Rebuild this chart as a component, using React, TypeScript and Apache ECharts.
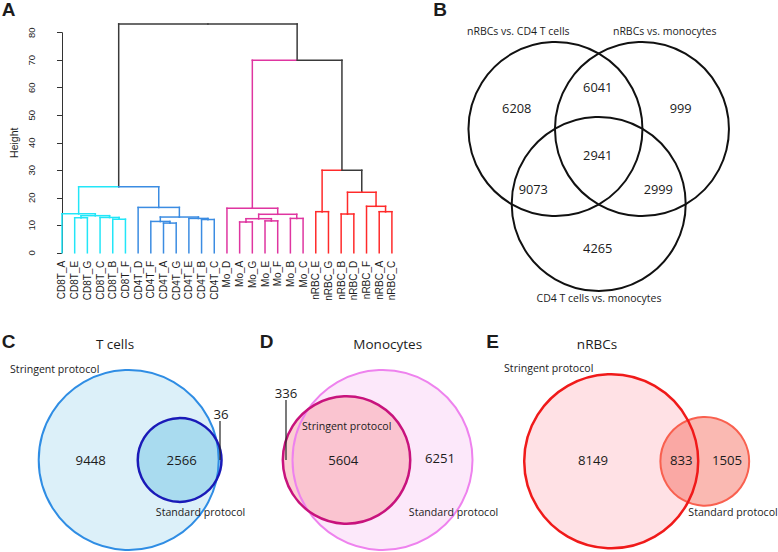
import React, { useEffect, useRef } from "react";
import * as echarts from "echarts";

// ---------------- Panel A data: hierarchical clustering ----------------
const leafLabels = [
  "CD8T_A", "CD8T_E", "CD8T_G", "CD8T_C", "CD8T_B", "CD8T_F",
  "CD4T_D", "CD4T_F", "CD4T_A", "CD4T_G", "CD4T_E", "CD4T_B", "CD4T_C",
  "Mo_D", "Mo_A", "Mo_G", "Mo_E", "Mo_F", "Mo_B", "Mo_C",
  "nRBC_E", "nRBC_G", "nRBC_B", "nRBC_D", "nRBC_F", "nRBC_A", "nRBC_C",
];
// merge k (1-based id "m<k>") joins mergeLeft[k-1] and mergeRight[k-1] at mergeHeights[k-1]
const mergeLeft = [
  "CD8T_B", "CD8T_E", "CD8T_C", "m2", "CD8T_A",
  "CD4T_A", "CD4T_F", "CD4T_B", "CD4T_E", "m7", "CD4T_D", "m5",
  "Mo_A", "Mo_E", "m13", "Mo_B", "m15", "Mo_D",
  "nRBC_E", "nRBC_B", "nRBC_A", "nRBC_F", "m20", "m19", "m18", "m12",
];
const mergeRight = [
  "CD8T_F", "CD8T_G", "m1", "m3", "m4",
  "CD4T_G", "m6", "CD4T_C", "m8", "m9", "m10", "m11",
  "Mo_G", "Mo_F", "m14", "Mo_C", "m16", "m17",
  "nRBC_G", "nRBC_D", "nRBC_C", "m21", "m22", "m23", "m24", "m25",
];
const mergeHeights = [
  12.2, 12.75, 12.85, 13.5, 14.2,
  10.8, 11.4, 12.1, 12.5, 13.0, 16.5, 24.0,
  11.2, 11.6, 12.4, 12.5, 14.0, 16.2,
  14.95, 14.1, 14.95, 16.9, 22.0, 30.0, 70.0, 83.2,
];
const heightMax = 80;
const heightStep = 10;

// ---------------- Panel B data ----------------
const vennBSetNames = ["nRBCs vs. CD4 T cells", "nRBCs vs. monocytes", "CD4 T cells vs. monocytes"];
const vennBRegions = ["A", "B", "C", "AB", "AC", "BC", "ABC"];
const vennBCounts = [6208, 999, 4265, 6041, 9073, 2999, 2941];

// ---------------- Panels C, D, E data ----------------
const eulerTitles = ["T cells", "Monocytes", "nRBCs"];
const eulerSetNames = ["Stringent protocol", "Standard protocol"];
// [stringent only, both, standard only]
const tCellCounts = [9448, 2566, 36];
const monocyteCounts = [336, 5604, 6251];
const nrbcCounts = [8149, 833, 1505];

// ---------------- styles / layout ----------------
const DENDRO_COLORS = ["#3a3a3a", "#22e6f8", "#3b8ce2", "#df35a0", "#ff2a2a"];
const CLUSTER_COLOR: Record<string, number> = { m5: 1, m11: 2, m18: 3, m19: 4, m20: 4, m22: 4 };
const SANS = "'Liberation Sans', Arial, sans-serif";
const VFONT = "'Open Sans', 'Noto Sans', sans-serif";
const TXT = "#1c1c1c";

function buildDendrogramSegments(): number[][] {
  const nodes: Record<string, { x: number; h: number; kids: string[] }> = {};
  leafLabels.forEach((l, i) => (nodes[l] = { x: i, h: 0, kids: [] }));
  mergeHeights.forEach((h, k) => {
    const a = mergeLeft[k];
    const b = mergeRight[k];
    nodes["m" + (k + 1)] = { x: (nodes[a].x + nodes[b].x) / 2, h, kids: [a, b] };
  });
  const segs: number[][] = [];
  const walk = (id: string, col: number) => {
    const n = nodes[id];
    n.kids.forEach((k) => {
      const c = nodes[k];
      const kc = CLUSTER_COLOR[k] ?? col;
      segs.push([c.x, c.h, c.x, n.h, kc]);
      segs.push([c.x, n.h, n.x, n.h, kc]);
      walk(k, kc);
    });
  };
  const root = "m" + mergeHeights.length;
  walk(root, CLUSTER_COLOR[root] ?? 0);
  return segs;
}

function lensArea(R: number, r: number, d: number) {
  if (d >= R + r) return 0;
  if (d <= Math.abs(R - r)) return Math.PI * Math.min(R, r) ** 2;
  const a = r * r * Math.acos((d * d + r * r - R * R) / (2 * d * r));
  const b = R * R * Math.acos((d * d + R * R - r * r) / (2 * d * R));
  const c = 0.5 * Math.sqrt((-d + r + R) * (d + r - R) * (d - r + R) * (d + r + R));
  return a + b - c;
}
function solveDistance(R: number, r: number, target: number) {
  let lo = Math.abs(R - r);
  let hi = R + r;
  for (let i = 0; i < 80; i++) {
    const mid = (lo + hi) / 2;
    if (lensArea(R, r, mid) > target) lo = mid;
    else hi = mid;
  }
  return (lo + hi) / 2;
}

type Desc =
  | { kind: "fill"; cx: number; cy: number; r: number; fill: string }
  | { kind: "stroke"; cx: number; cy: number; r: number; stroke: string; lw: number }
  | { kind: "text"; x: number; y: number; text: string; size: number }
  | { kind: "line"; x1: number; y1: number; x2: number; y2: number };

// Layout of the Euler panels (positions in page pixels)
const EULER_LAYOUT = [
  {
    counts: tCellCounts, cx: 128.7, cy: 460, R: 90, dir: 1, bigIsStringent: true,
    big: { fill: "#dcf0f9", stroke: "#2f8de4", lw: 2 },
    small: { fill: "#a9dbef", stroke: "#1a1ab8", lw: 2.5 },
    strokeOrder: ["big", "small"],
    labels: { bigOnly: [90.7, 460], both: [181.7, 460], smallOnly: [221, 413.5] },
    leader: [220, 421, 220, 460],
  },
  {
    counts: monocyteCounts, cx: 382.5, cy: 460, R: 90, dir: -1, bigIsStringent: false,
    big: { fill: "#fce8fa", stroke: "#ee82ee", lw: 2 },
    small: { fill: "rgba(248,160,165,0.5)", stroke: "#c8137d", lw: 2.5 },
    strokeOrder: ["big", "small"],
    labels: { bigOnly: [440, 458], both: [343.3, 460], smallOnly: [286, 393] },
    leader: [286, 400, 286, 460],
  },
  {
    counts: nrbcCounts, cx: 611.2, cy: 461.3, R: 87, dir: 1, bigIsStringent: true,
    big: { fill: "#ffe1e5", stroke: "#f01a1a", lw: 2.5 },
    small: { fill: "rgba(245,100,85,0.45)", stroke: "#f9604f", lw: 2 },
    strokeOrder: ["small", "big"],
    labels: { bigOnly: [593, 460], both: [681.3, 460], smallOnly: [727, 460] },
    leader: null as null | number[],
  },
];

const VENN_B = { cx: 598.7, cy: 154, side: 86.5, r: 87 };
const VENN_B_LABEL_OFFSETS: Record<string, number[]> = {
  A: [-82, -45.8], B: [82, -45.8], C: [-1, 94.2], AB: [-1, -66.8],
  AC: [-65.4, 35.2], BC: [59.6, 35.2], ABC: [-1, 0.9],
};

function buildVennDescs(): Desc[] {
  const out: Desc[] = [];
  // Panel B
  const { cx, cy, side, r } = VENN_B;
  const h = side / (2 * Math.sqrt(3));
  const centers = [
    [cx - side / 2, cy - h],
    [cx + side / 2, cy - h],
    [cx, cy + side / Math.sqrt(3)],
  ];
  centers.forEach(([x, y]) => out.push({ kind: "stroke", cx: x, cy: y, r, stroke: "#111", lw: 2 }));
  vennBRegions.forEach((k, i) => {
    const o = VENN_B_LABEL_OFFSETS[k];
    out.push({ kind: "text", x: cx + o[0], y: cy + o[1], text: String(vennBCounts[i]), size: 12.8 });
  });
  // Panels C, D, E
  EULER_LAYOUT.forEach((p) => {
    const [sOnly, both, dOnly] = p.counts;
    const totS = sOnly + both;
    const totD = dOnly + both;
    const totBig = p.bigIsStringent ? totS : totD;
    const totSmall = p.bigIsStringent ? totD : totS;
    const bigOnly = p.bigIsStringent ? sOnly : dOnly;
    const smallOnly = p.bigIsStringent ? dOnly : sOnly;
    const R = p.R;
    const rs = R * Math.sqrt(totSmall / totBig);
    const target = (Math.PI * R * R * both) / totBig;
    const d = solveDistance(R, rs, target);
    const sx = p.cx + p.dir * d;
    out.push({ kind: "fill", cx: p.cx, cy: p.cy, r: R, fill: p.big.fill });
    out.push({ kind: "fill", cx: sx, cy: p.cy, r: rs, fill: p.small.fill });
    p.strokeOrder.forEach((w) => {
      if (w === "big") out.push({ kind: "stroke", cx: p.cx, cy: p.cy, r: R, stroke: p.big.stroke, lw: p.big.lw });
      else out.push({ kind: "stroke", cx: sx, cy: p.cy, r: rs, stroke: p.small.stroke, lw: p.small.lw });
    });
    if (p.leader) {
      const [x1, y1, x2, y2] = p.leader;
      out.push({ kind: "line", x1, y1, x2, y2 });
    }
    out.push({ kind: "text", x: p.labels.bigOnly[0], y: p.labels.bigOnly[1], text: String(bigOnly), size: 13.2 });
    out.push({ kind: "text", x: p.labels.both[0], y: p.labels.both[1], text: String(both), size: 13.2 });
    out.push({ kind: "text", x: p.labels.smallOnly[0], y: p.labels.smallOnly[1], text: String(smallOnly), size: 13.2 });
  });
  return out;
}

function gText(text: string, x: number, y: number, size: number, font: string, weight: string = "normal") {
  return {
    type: "text",
    x,
    y,
    z: 100,
    style: {
      text,
      fill: TXT,
      fontSize: size,
      fontFamily: font,
      fontWeight: weight,
      textAlign: "center",
      textVerticalAlign: "middle",
      align: "center",
      verticalAlign: "middle",
    },
  };
}

export default function App() {
  const ref = useRef<HTMLDivElement>(null);
  useEffect(() => {
    if (!ref.current) return;
    const chart = echarts.init(ref.current, null, { renderer: "svg" });
    const segs = buildDendrogramSegments();
    const descs = buildVennDescs();

    const graphicEls: any[] = [
      gText("A", 8.5, 9.5, 19, SANS, "bold"),
      gText("B", 440, 9.5, 19, SANS, "bold"),
      gText("C", 8.5, 341.5, 19, SANS, "bold"),
      gText("D", 266.7, 341.5, 19, SANS, "bold"),
      gText("E", 492.5, 341.5, 19, SANS, "bold"),
      gText(vennBSetNames[0], 518.3, 31, 10.5, VFONT),
      gText(vennBSetNames[1], 664.7, 31, 10.5, VFONT),
      gText(vennBSetNames[2], 599, 297.5, 10.5, VFONT),
      gText(eulerTitles[0], 115, 343.5, 13.5, VFONT),
      gText(eulerTitles[1], 387.7, 343.5, 13.5, VFONT),
      gText(eulerTitles[2], 597, 343.5, 13.5, VFONT),
      gText(eulerSetNames[0], 54.7, 369.3, 10.6, VFONT),
      gText(eulerSetNames[1], 200.5, 511.7, 10.6, VFONT),
      gText(eulerSetNames[0], 346.7, 426, 10.6, VFONT),
      gText(eulerSetNames[1], 453.5, 511.7, 10.6, VFONT),
      gText(eulerSetNames[0], 548.7, 368.3, 10.6, VFONT),
      gText(eulerSetNames[1], 733, 511.7, 10.6, VFONT),
    ];

    const option: any = {
      animation: false,
      backgroundColor: "#ffffff",
      grid: [
        { left: 55.65, top: 32.7, width: 342.6, height: 220.1, outerBoundsMode: "none" },
        { left: 0, top: 0, width: 778, height: 552, outerBoundsMode: "none" },
      ],
      xAxis: [
        { type: "value", gridIndex: 0, min: -0.5, max: leafLabels.length - 0.5, show: false, position: "top" },
        {
          type: "category",
          gridIndex: 0,
          data: leafLabels,
          position: "bottom",
          boundaryGap: true,
          axisLine: { show: false },
          axisTick: { show: false },
          axisLabel: { rotate: 90, interval: 0, margin: 8, fontSize: 10, fontFamily: SANS, color: TXT },
        },
        { type: "value", gridIndex: 1, min: 0, max: 778, show: false },
      ],
      yAxis: [
        {
          type: "value",
          gridIndex: 0,
          min: 0,
          max: heightMax,
          interval: heightStep,
          offset: 13,
          name: "Height",
          nameLocation: "middle",
          nameRotate: 90,
          nameGap: 23,
          nameTextStyle: { fontSize: 10.5, fontFamily: SANS, color: TXT },
          axisLine: { show: true, lineStyle: { color: "#333", width: 1 } },
          axisTick: { show: true, length: 5, lineStyle: { color: "#333", width: 1 } },
          axisLabel: { rotate: 90, margin: 6, fontSize: 9.5, fontFamily: SANS, color: TXT },
          splitLine: { show: false },
        },
        { type: "value", gridIndex: 1, min: 0, max: 552, inverse: true, show: false },
      ],
      series: [
        {
          type: "custom",
          name: "dendrogram",
          xAxisIndex: 0,
          yAxisIndex: 0,
          clip: false,
          dimensions: ["x1", "y1", "x2", "y2", "c"],
          encode: { x: [0, 2], y: [1, 3] },
          data: segs,
          renderItem: (params: any, api: any) => {
            const p1 = api.coord([api.value(0), api.value(1)]);
            const p2 = api.coord([api.value(2), api.value(3)]);
            return {
              type: "line",
              shape: { x1: p1[0], y1: p1[1], x2: p2[0], y2: p2[1] },
              style: { stroke: DENDRO_COLORS[api.value(4)], lineWidth: 1.5, lineCap: "square" },
            };
          },
        },
        {
          type: "custom",
          name: "venn",
          xAxisIndex: 2,
          yAxisIndex: 1,
          clip: false,
          data: descs.map((d: any) => [d.cx ?? d.x ?? d.x1, d.cy ?? d.y ?? d.y1]),
          renderItem: (params: any, api: any) => {
            const e: any = descs[params.dataIndex];
            const z2 = params.dataIndex;
            if (e.kind === "fill" || e.kind === "stroke") {
              const c = api.coord([e.cx, e.cy]);
              const rr = Math.abs(api.size([e.r, 0])[0]);
              return {
                type: "circle",
                z2,
                shape: { cx: c[0], cy: c[1], r: rr },
                style:
                  e.kind === "fill"
                    ? { fill: e.fill, stroke: "none" }
                    : { fill: "none", stroke: e.stroke, lineWidth: e.lw },
              };
            }
            if (e.kind === "line") {
              const a = api.coord([e.x1, e.y1]);
              const b = api.coord([e.x2, e.y2]);
              return {
                type: "line",
                z2,
                shape: { x1: a[0], y1: a[1], x2: b[0], y2: b[1] },
                style: { stroke: "#222", lineWidth: 1.2 },
              };
            }
            const p = api.coord([e.x, e.y]);
            return {
              type: "text",
              z2,
              x: p[0],
              y: p[1],
              style: {
                text: e.text,
                fill: TXT,
                fontSize: e.size,
                fontFamily: VFONT,
                textAlign: "center",
                textVerticalAlign: "middle",
                align: "center",
                verticalAlign: "middle",
              },
            };
          },
        },
      ],
      graphic: { elements: graphicEls },
    };
    chart.setOption(option);
    return () => chart.dispose();
  }, []);
  return (
    <div
      ref={ref}
      style={{ position: "fixed", left: 0, top: 0, width: 778, height: 552, background: "#fff" }}
    />
  );
}
